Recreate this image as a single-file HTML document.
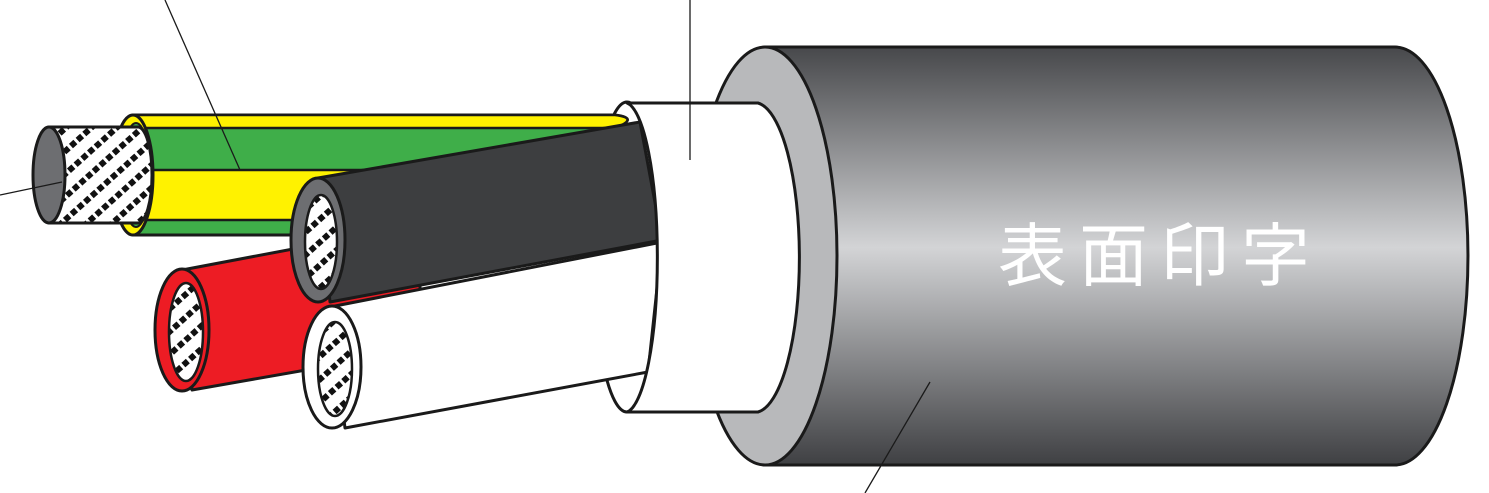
<!DOCTYPE html>
<html><head><meta charset="utf-8"><style>
html,body{margin:0;padding:0;background:#fff;width:1489px;height:493px;overflow:hidden}
svg{display:block}
</style></head><body>
<svg width="1489" height="493" viewBox="0 0 1489 493" xmlns="http://www.w3.org/2000/svg">
<defs>
<pattern id="br" width="9" height="17" patternUnits="userSpaceOnUse" patternTransform="rotate(-42)">
<rect width="9" height="17" fill="#fff"/><rect x="0" y="0" width="6" height="6" fill="#111"/>
</pattern>
<linearGradient id="jk" x1="0" y1="0" x2="0" y2="1">
<stop offset="0" stop-color="#47484b"/><stop offset="0.48" stop-color="#d3d4d6"/><stop offset="1" stop-color="#3f4043"/>
</linearGradient>
</defs>
<g stroke="#1a1a1a" stroke-width="3" stroke-linejoin="round">
<!-- tape back ellipse -->
<ellipse cx="627" cy="257" rx="33" ry="155" fill="#fff"/>
<!-- green/yellow core -->
<path d="M133 115 L615 115 Q640 118 615 128 L370 175 L370 235 L133 235 Z" fill="#3fae49"/>
<path d="M133 115 L615 115 Q640 118 615 128 L133 128 Z" fill="#fff200" stroke-width="2.5"/>
<rect x="133" y="170" width="240" height="50" fill="#fff200" stroke-width="2.5"/>
<ellipse cx="133" cy="175" rx="20" ry="60" fill="#fff200"/>
<ellipse cx="136" cy="175" rx="14" ry="52" fill="#3fae49" stroke-width="2"/>
<!-- conductor -->
<path d="M49 127 L138 127 A14 48 0 0 1 138 223 L49 223 Z" fill="url(#br)"/>
<ellipse cx="49" cy="175" rx="16" ry="48" fill="#6d6e71"/>
<!-- red core -->
<path d="M182 270 L420 225 L420 350 L192 390 Z" fill="#ed1c24"/>
<ellipse cx="182" cy="330" rx="27" ry="61" fill="#ed1c24"/>
<ellipse cx="186" cy="332" rx="17" ry="49" fill="url(#br)" stroke-width="2.5"/>
<!-- black core -->
<path d="M318 178 L640 122 L662 240 L330 302 Z" fill="#3d3e40"/>
<ellipse cx="318" cy="240" rx="27" ry="62" fill="#6d6e71"/>
<ellipse cx="321" cy="242" rx="16" ry="47" fill="url(#br)" stroke-width="2.5"/>
<!-- white core -->
<path d="M330 307 L662 242 L648 372 L345 428 Z" fill="#fff"/>
<ellipse cx="332" cy="367" rx="29" ry="61" fill="#fff"/>
<ellipse cx="335" cy="369" rx="17" ry="47" fill="url(#br)" stroke-width="2.5"/>
<!-- jacket -->
<path d="M765 47 L1395 47 A73 209 0 0 1 1395 465 L765 465 Z" fill="url(#jk)"/>
<ellipse cx="765" cy="256" rx="72" ry="209" fill="#b8b9bb"/>
<!-- tape body -->
<path d="M627 103 L758 103 A45 155 0 0 1 758 412 L627 412 A33 155 0 0 0 627 103 Z" fill="#fff"/>
</g>
<g stroke="#1a1a1a" stroke-width="1.3" fill="none">
<line x1="165" y1="0" x2="240" y2="170"/>
<line x1="690" y1="0" x2="690" y2="160"/>
<line x1="0" y1="195" x2="62" y2="182"/>
<line x1="865" y1="493" x2="930" y2="382"/>
</g>
<text x="1160" y="280" text-anchor="middle" fill="#fff" font-size="69" letter-spacing="12" font-family="'Liberation Sans','Noto Sans CJK JP',sans-serif">表面印字</text>
</svg>
</body></html>
